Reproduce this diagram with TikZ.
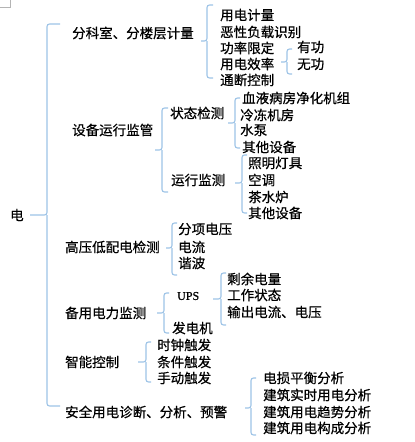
\documentclass[tikz,border=0pt]{standalone}
\usepackage{fontspec}
\newfontfamily\cjk[FakeBold=0.6]{Noto Sans CJK SC}
\newfontfamily\upsfont[FakeBold=0.8]{Liberation Serif}
\definecolor{bracecol}{HTML}{9DC3E6}
\definecolor{markcol}{HTML}{B4B4B4}
\tikzset{
  lbl/.style={anchor=west, inner sep=0pt, font=\cjk\fontsize{13.5}{14}\selectfont},
  brc/.style={draw=bracecol, line width=1.1pt, rounded corners=2.5pt},
}
% x, top, bottom, mid, tick end x, hook length
\newcommand\mybrc[6]{%
  \draw[brc] (#1+#6,#2) -- (#1,#2) -- (#1,#4) -- (#5,#4);
  \draw[brc] (#1,#4) -- (#1,#3) -- (#1+#6,#3);
}
\begin{document}
\begin{tikzpicture}[x=1pt,y=-1pt]
\useasboundingbox (0,0) rectangle (415,442);
% corner mark
\draw[markcol, line width=0.8pt] (0,7) -- (10,7) -- (10,0);

% root
\node[lbl] (root) at (10,215) {电};
\mybrc{47}{24}{406}{215}{30}{13}

% level 1
\node[lbl] (a) at (72,33) {分科室、分楼层计量};
\node[lbl] (b) at (72,130) {设备运行监管};
\node[lbl] (c) at (65,247) {高压低配电检测};
\node[lbl] (d) at (65,313) {备用电力监测};
\node[lbl] (e) at (65,362) {智能控制};
\node[lbl] (f) at (65,412) {安全用电诊断、分析、预警};

% a
\mybrc{207}{5}{78}{41}{201}{6}
\node[lbl] (a1) at (220,15) {用电计量};
\node[lbl] (a2) at (220,32) {恶性负载识别};
\node[lbl] (a3) at (220,48) {功率限定};
\node[lbl] (a4) at (220,64) {用电效率};
\node[lbl] (a5) at (220,80) {通断控制};
\mybrc{287}{49}{74}{62}{281}{5}
\node[lbl] (a41) at (297,47) {有功};
\node[lbl] (a42) at (297,64) {无功};

% b
\mybrc{162}{108}{192}{150}{155}{6}
\node[lbl] (b1) at (170,113) {状态检测};
\node[lbl] (b2) at (171,180) {运行监测};
\mybrc{235}{98}{148}{123}{228}{5}
\node[lbl] (b11) at (242,98) {血液病房净化机组};
\node[lbl] (b12) at (240,115) {冷冻机房};
\node[lbl] (b13) at (240,130) {水泵};
\node[lbl] (b14) at (242,147) {其他设备};
\mybrc{242}{155}{213}{183}{235}{5}
\node[lbl] (b21) at (248,163) {照明灯具};
\node[lbl] (b22) at (248,180) {空调};
\node[lbl] (b23) at (248,197) {茶水炉};
\node[lbl] (b24) at (248,213) {其他设备};

% c
\mybrc{172}{223}{275}{248}{166}{5}
\node[lbl] (c1) at (178,229) {分项电压};
\node[lbl] (c2) at (178,247) {电流};
\node[lbl] (c3) at (178,263) {谐波};

% d
\mybrc{164}{293}{333}{313}{157}{5}
\node[anchor=west, inner sep=0pt, font=\upsfont\fontsize{12}{13}\selectfont] (d1) at (177,296) {UPS};
\node[lbl] (d2) at (172,328) {发电机};
\mybrc{221}{273}{325}{299}{213}{5}
\node[lbl] (d11) at (227,279) {剩余电量};
\node[lbl] (d12) at (227,295) {工作状态};
\node[lbl] (d13) at (227,312) {输出电流、电压};

% e
\mybrc{146}{342}{382}{362}{138}{5}
\node[lbl] (e1) at (157,345) {时钟触发};
\node[lbl] (e2) at (157,362) {条件触发};
\node[lbl] (e3) at (157,378) {手动触发};

% f
\mybrc{251}{378}{435}{408}{245}{5}
\node[lbl] (f1) at (263,378) {电损平衡分析};
\node[lbl] (f2) at (263,395) {建筑实时用电分析};
\node[lbl] (f3) at (263,412) {建筑用电趋势分析};
\node[lbl] (f4) at (263,428) {建筑用电构成分析};
\end{tikzpicture}
\end{document}
